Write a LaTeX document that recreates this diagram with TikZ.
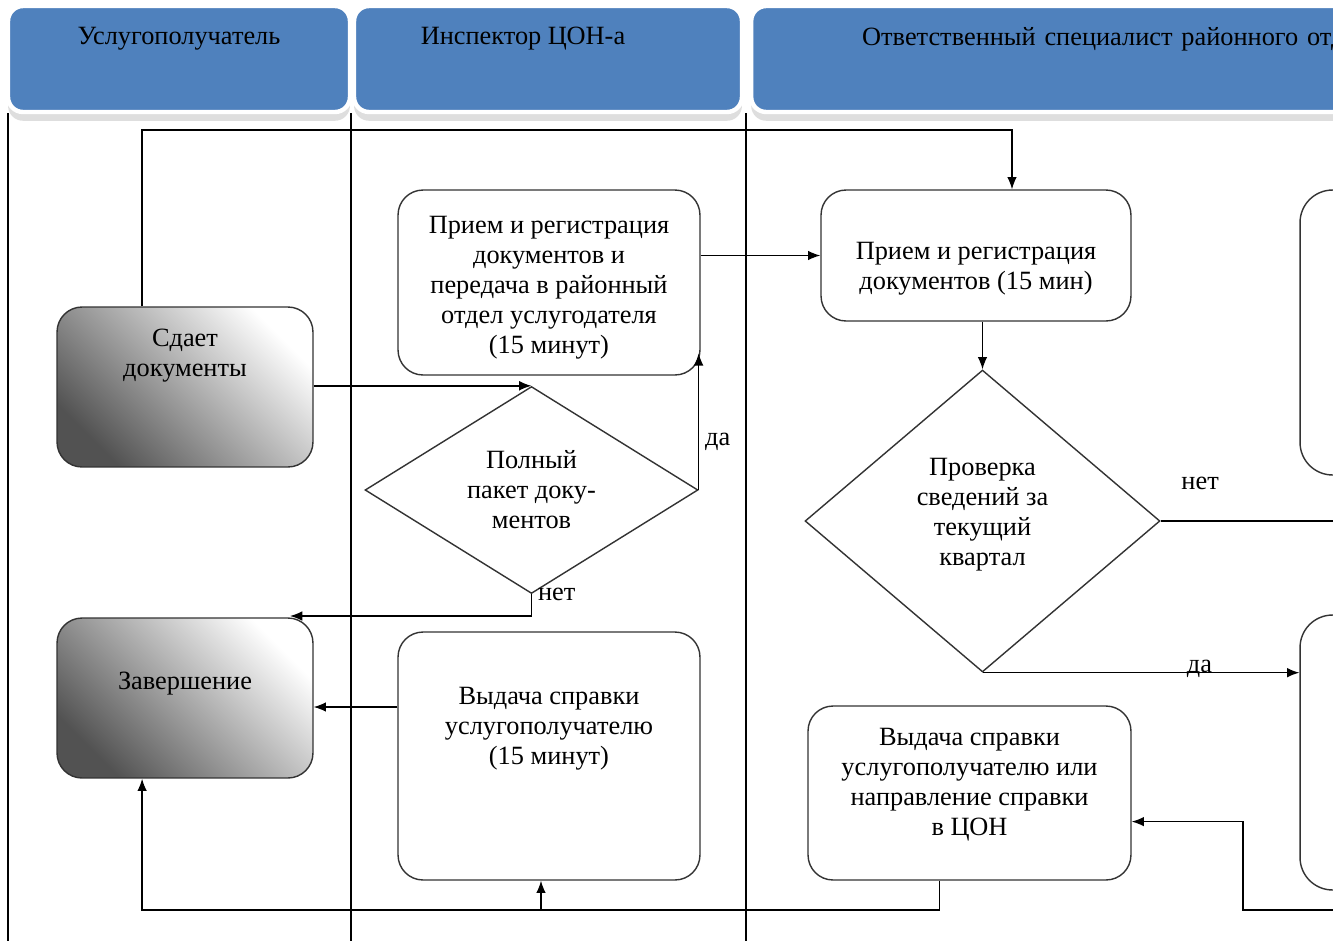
\documentclass[tikz,border=0pt]{standalone}
\usepackage{fontspec}
\setmainfont{Liberation Serif}
\usepackage{tikz}
\usetikzlibrary{positioning,arrows.meta,calc,shapes.geometric,shadows}
\definecolor{headblue}{HTML}{4F81BD}
\definecolor{boxgray}{HTML}{333333}
\tikzset{
    >={Latex[length=7pt, width=5.5pt]},
    every node/.style = {
        font=\fontsize{15}{17.07}\selectfont
    },
    lanehead/.style = {
        draw=white,
        line width=2.5pt,
        fill=headblue,
        rounded corners=0.3cm,
        minimum height=2.12cm,
        text depth=0.92cm,
        drop shadow={shadow xshift=0pt, shadow yshift=-5pt, fill=black!25}
    },
    block/.style = {
        draw=boxgray,
        shape=rectangle,
        rounded corners=0.5cm,
        align=center,
        inner sep=2pt,
        fill=white,
        line width=0.8pt
    },
    endblock/.style = {
        block,
        top color=white,
        bottom color=black!68,
        shading angle=-45
    },
    decision/.style = {
        draw=boxgray,
        shape=diamond,
        align=center,
        inner sep=0pt,
        fill=white,
        line width=0.8pt
    },
    lane/.style = {
        draw=black,
        line width=0.8pt
    },
    flow/.style = {
        draw=black,
        line width=0.8pt
    },
}

\begin{document}
\begin{tikzpicture}[x=0.02cm, y=-0.02cm]
        \clip (0,0) rectangle (1333,941);
        \fill[white] (0,0) rectangle (1333,941);

        % lanes
        \node[lanehead, minimum width=6.84cm] (head1) at (179,59) {Услугополучатель};
        \node[lanehead, minimum width=7.76cm] (head2) at (548,59) {Инспектор ЦОН-а\hspace*{1cm}};
        \node[lanehead, anchor=west, text width=15.56cm, align=left, inner xsep=2.22cm] (head3) at (749,59) {Ответственный специалист районного отдела};
        \foreach \x in {8,351,746}
            \draw[lane] (\x,113) -- (\x,941);

        \node[endblock, minimum width=5.12cm, minimum height=3.2cm, text depth=1.36cm] (give) at (185,387) {Сдает\\документы};
        \node[endblock, minimum width=5.12cm, minimum height=3.2cm, text depth=0.68cm] (fin) at (185,698) {Завершение};

        \node[block, minimum width=6.04cm, minimum height=3.7cm, text height=2.96cm] (priem1) at (549,282.5) {Прием и регистрация\\документов и\\передача в районный\\отдел услугодателя\\(15 минут)};
        \node[decision, minimum width=6.66cm, minimum height=3.88cm] (d1) at (531.5,490) {Полный\\пакет доку-\\ментов};
        \node[block, minimum width=6.04cm, minimum height=4.96cm, text depth=1.2cm] (vyd1) at (549,756) {Выдача справки\\услугополучателю\\(15 минут)};

        \node[block, minimum width=6.2cm, minimum height=2.62cm, text height=1.46cm] (priem2) at (976,255.5) {Прием и регистрация\\документов (15 мин)};
        \node[decision, minimum width=7.1cm, minimum height=6.04cm, text depth=0.35cm] (d2) at (982.5,521) {Проверка\\сведений за\\текущий\\квартал};
        \node[block, minimum width=6.46cm, minimum height=3.48cm, text depth=0.44cm] (vyd2) at (969.5,793) {Выдача справки\\услугополучателю или\\направление справки\\в ЦОН};

        \node[block, minimum width=8cm, minimum height=5.7cm, rounded corners=0.65cm] (r1) at (1500,332.5) {};
        \node[block, minimum width=8cm, minimum height=5.5cm, rounded corners=0.65cm] (r2) at (1500,752.5) {};

        \coordinate (topturn) at (1012,130);
        \coordinate (netturn) at (290,616);
        \coordinate (netout) at (1340,521);
        \coordinate (backin) at (1340,910);
        \coordinate (backturn) at (1243,822);
        \coordinate (botturn) at (541,910);

        \path[flow, ->] (give.118) |- (topturn) -- (topturn |- priem2.north);
        \path[flow, ->] (give.east |- d1.north) -- (d1.north);
        \path[flow, ->] (d1.east) -- (d1.east |- priem1.335) node[pos=0.35, right] {да};
        \path[flow, ->] (d1.south) |- (netturn) node[pos=0, right] {нет};
        \path[flow, ->] (priem1.east |- priem2.west) -- (priem2.west);
        \path[flow, ->] (d2.north |- priem2.south) -- (d2.north);
        \path[flow] (d2.east) -- (netout) node[pos=0.22, above=0.5cm] {нет};
        \path[flow, ->] (d2.south) -- (d2.south -| r2.west) node[pos=0.685, anchor=base] {да};
        \path[flow, ->] (vyd1.west |- fin.356) -- (fin.356);
        \path[flow, ->] (vyd2.251) |- (botturn) -| (fin.242);
        \path[flow, ->] (botturn) -- (botturn |- vyd1.south);
        \path[flow, ->] (backin) -| (backturn) |- (vyd2.350);
    \end{tikzpicture}
\end{document}
